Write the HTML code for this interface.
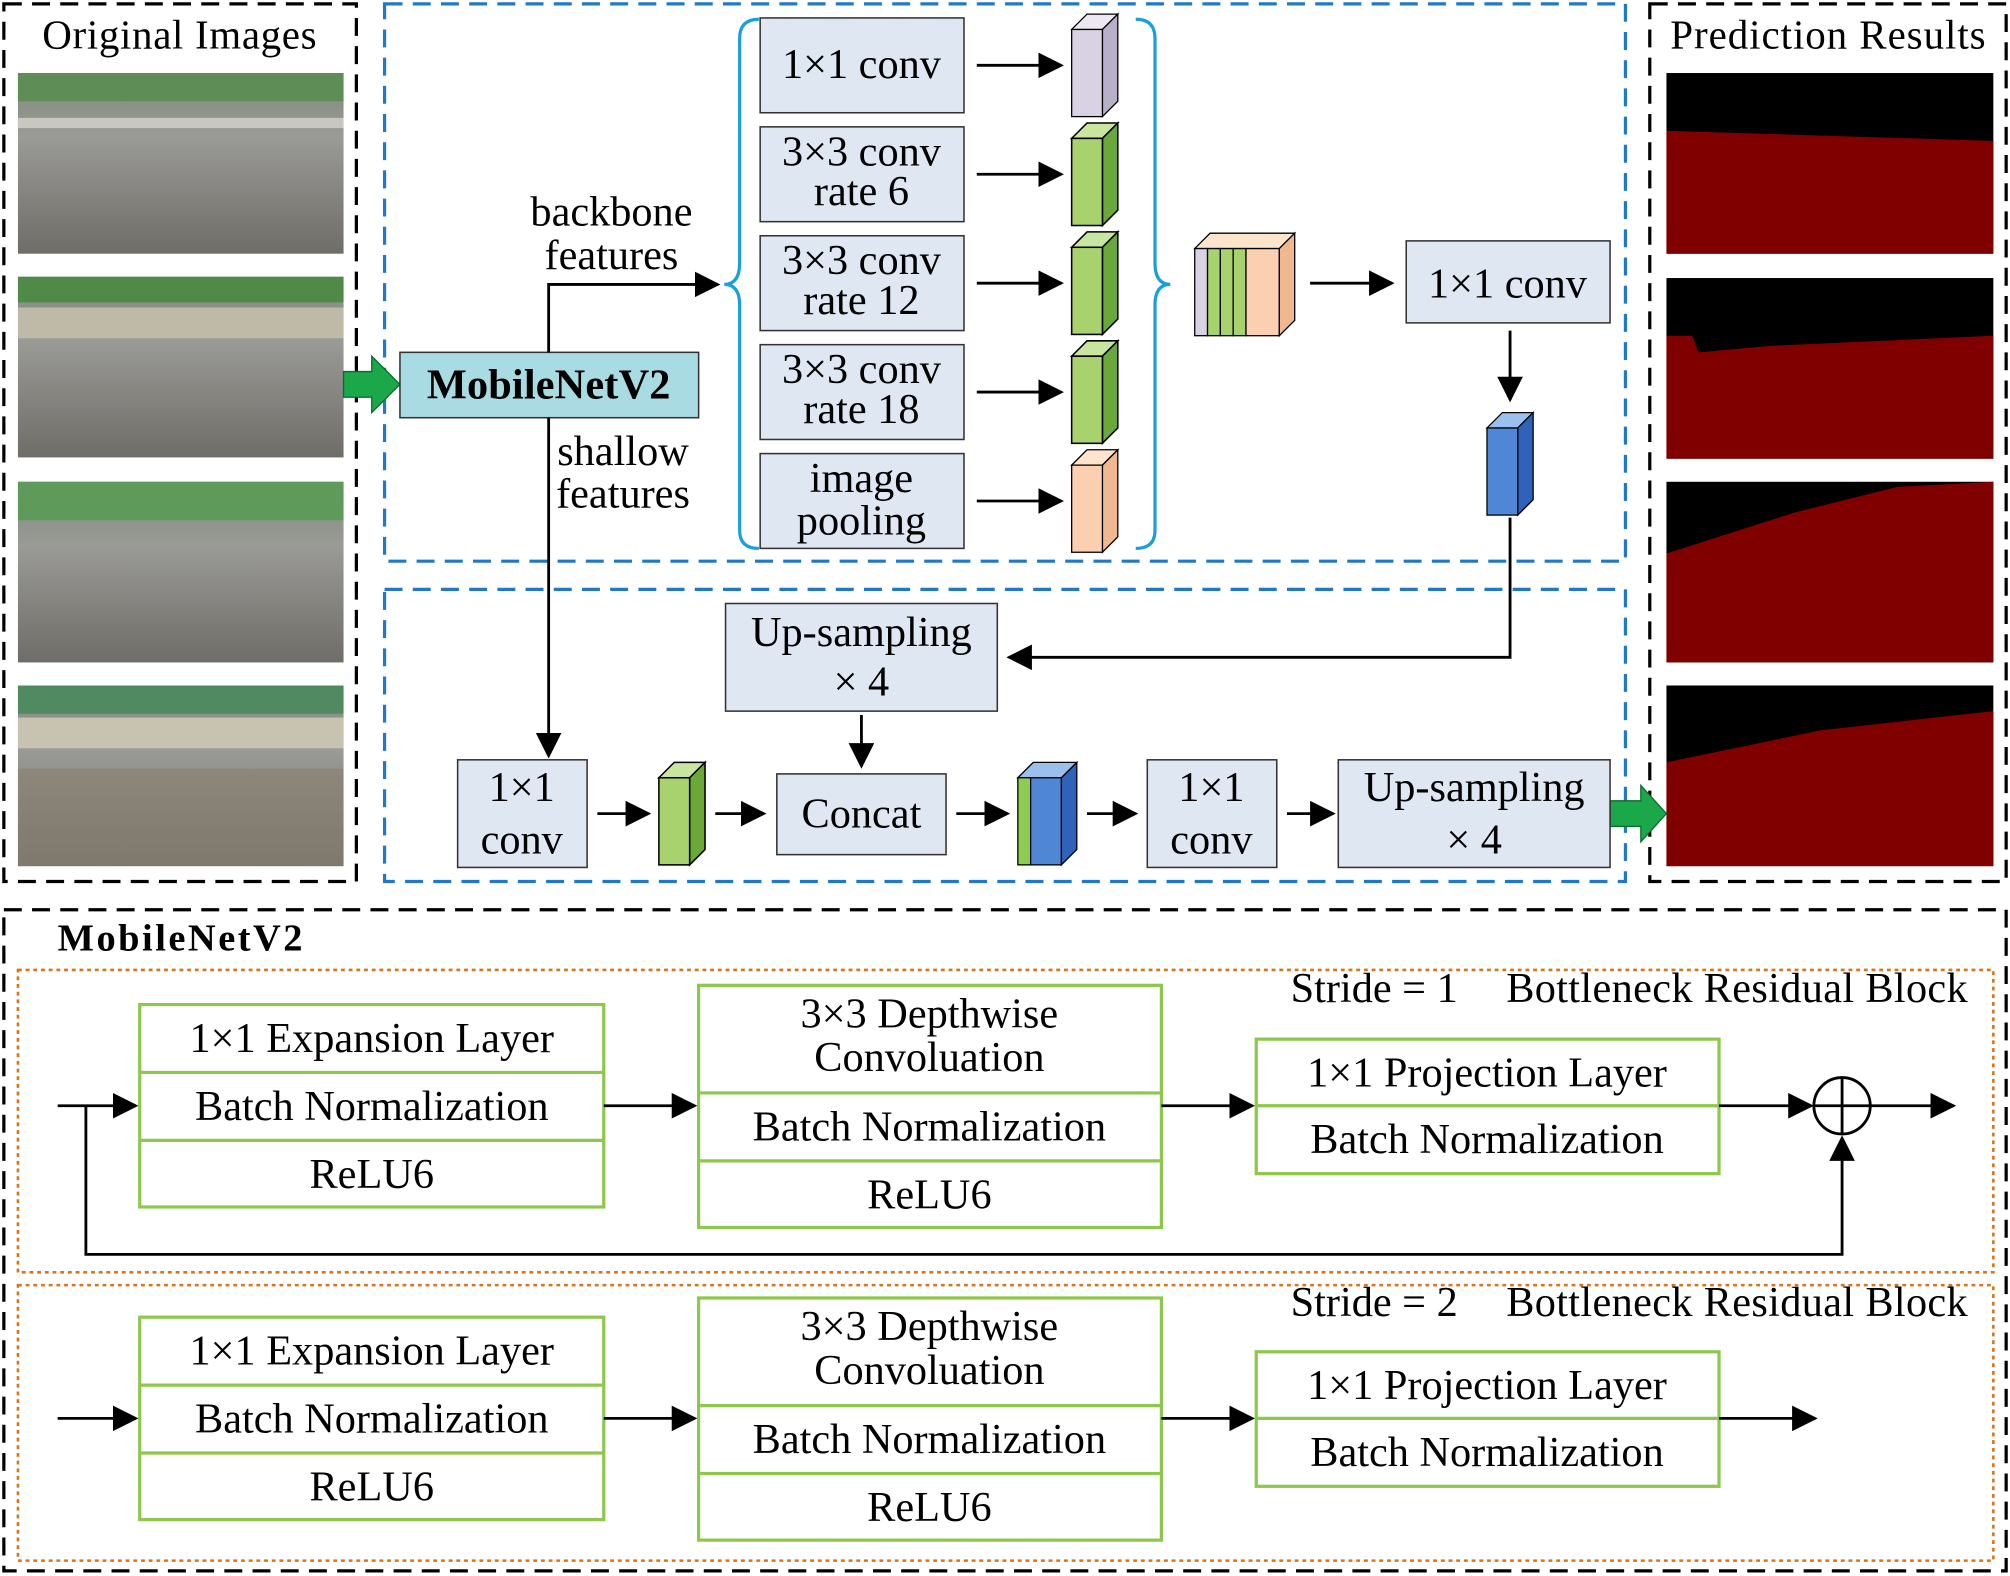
<!DOCTYPE html>
<html><head><meta charset="utf-8"><style>html,body{margin:0;padding:0;background:#fff}svg{display:block}</style></head>
<body>
<svg width="2010" height="1576" viewBox="0 0 1568 1230" preserveAspectRatio="none" xmlns="http://www.w3.org/2000/svg" font-family="Liberation Serif, serif">
<defs>
<marker id="a2" viewBox="0 0 10 10" refX="9" refY="5" markerWidth="20" markerHeight="20" orient="auto" markerUnits="userSpaceOnUse"><path d="M0,0 L10,5 L0,10 z" fill="#000"/></marker>
<linearGradient id="road" x1="0" y1="0" x2="0" y2="1"><stop offset="0" stop-color="#7d8a7a"/><stop offset="0.35" stop-color="#9a9a96"/><stop offset="1" stop-color="#6f6d68"/></linearGradient>
<g id="cg"><polygon points="0,12 12,0 36,0 24,12" fill="#c8e6a0" stroke="#000" stroke-width="1.2"/><polygon points="24,12 36,0 36,68 24,80" fill="#6aa83a" stroke="#000" stroke-width="1.2"/><rect x="0" y="12" width="24" height="68" fill="#a8d26e" stroke="#000" stroke-width="1.2"/></g>
</defs>
<g fill="none" stroke="#000" stroke-width="2.5" stroke-dasharray="14,8">
<rect x="3" y="3" width="275" height="685"/><rect x="1287" y="3" width="278" height="685"/><rect x="3" y="710" width="1562" height="516"/>
</g>
<g fill="none" stroke="#1f78c8" stroke-width="2.5" stroke-dasharray="14,8"><rect x="300" y="3" width="968" height="435"/><rect x="300" y="460" width="968" height="228"/></g>
<g fill="none" stroke="#d8741a" stroke-width="2" stroke-dasharray="3,3"><rect x="14" y="757" width="1541" height="236"/><rect x="14" y="1003" width="1541" height="215"/></g>
<g font-size="32" text-anchor="middle"><text x="140" y="38" textLength="214">Original Images</text><text x="1426" y="38" textLength="246">Prediction Results</text></g>
<g>
<rect x="14" y="57" width="254" height="141" fill="url(#road)"/><rect x="14" y="57" width="254" height="22" fill="#5e8d55"/><rect x="14" y="92" width="254" height="8" fill="#c8c8c0"/>
<rect x="14" y="216" width="254" height="141" fill="url(#road)"/><rect x="14" y="216" width="254" height="20" fill="#4f8a48"/><rect x="14" y="240" width="254" height="24" fill="#bfb9a8"/>
<rect x="14" y="376" width="254" height="141" fill="url(#road)"/><rect x="14" y="376" width="254" height="30" fill="#5e9a5a"/>
<rect x="14" y="535" width="254" height="141" fill="url(#road)"/><rect x="14" y="535" width="254" height="22" fill="#4f8a60"/><rect x="14" y="560" width="254" height="24" fill="#c8c2b0"/><rect x="14" y="600" width="254" height="76" fill="#8a8070" opacity="0.6"/>
</g>
<g fill="#800000">
<rect x="1300" y="57" width="255" height="141" fill="#000"/><polygon points="1300,102 1555,110 1555,198 1300,198"/>
<rect x="1300" y="217" width="255" height="141" fill="#000"/><polygon points="1300,262 1320,262 1325,275 1380,270 1555,262 1555,358 1300,358"/>
<rect x="1300" y="376" width="255" height="141" fill="#000"/><polygon points="1300,432 1400,400 1480,380 1555,376 1555,517 1300,517"/>
<rect x="1300" y="535" width="255" height="141" fill="#000"/><polygon points="1300,595 1420,570 1555,555 1555,676 1300,676"/>
</g>
<polygon points="268,290 290,290 290,278 312,300 290,322 290,310 268,310" fill="#1aa84a" stroke="#0a6a2a"/>
<polygon points="1256,625 1280,625 1280,613 1300,635 1280,657 1280,645 1256,645" fill="#1aa84a" stroke="#0a6a2a"/>
<rect x="312" y="275" width="233" height="51" fill="#a9dbe3" stroke="#333" stroke-width="1.2"/>
<text x="428" y="311" font-size="33" font-weight="bold" text-anchor="middle" textLength="190">MobileNetV2</text>
<g stroke="#000" stroke-width="2.2" fill="none">
<polyline points="428,275 428,222 560,222" marker-end="url(#a2)"/>
<line x1="428" y1="326" x2="428" y2="590" marker-end="url(#a2)"/>
</g>
<g font-size="33" text-anchor="middle"><text x="477" y="176">backbone</text><text x="477" y="210">features</text><text x="486" y="363">shallow</text><text x="486" y="396">features</text></g>
<g fill="none" stroke="#1aa0d8" stroke-width="2.5">
<path d="M592,15 Q577,15 577,30 L577,205 Q577,222 565,222 Q577,222 577,238 L577,414 Q577,428 592,428"/>
<path d="M886,15 Q901,15 901,30 L901,205 Q901,222 913,222 Q901,222 901,238 L901,414 Q901,428 886,428"/>
</g>
<g fill="#dee7f2" stroke="#333" stroke-width="1.2">
<rect x="593" y="14" width="159" height="74"/><rect x="593" y="99" width="159" height="74"/><rect x="593" y="184" width="159" height="74"/><rect x="593" y="269" width="159" height="74"/><rect x="593" y="354" width="159" height="74"/>
<rect x="1097" y="188" width="159" height="64"/><rect x="566" y="471" width="212" height="84"/><rect x="357" y="593" width="101" height="84"/><rect x="606" y="604" width="132" height="63"/><rect x="895" y="593" width="101" height="84"/><rect x="1044" y="593" width="212" height="84"/>
</g>
<g font-size="33" text-anchor="middle">
<text x="672" y="61">1×1 conv</text>
<text x="672" y="129">3×3 conv</text><text x="672" y="160">rate 6</text>
<text x="672" y="214">3×3 conv</text><text x="672" y="245">rate 12</text>
<text x="672" y="299">3×3 conv</text><text x="672" y="330">rate 18</text>
<text x="672" y="384">image</text><text x="672" y="417">pooling</text>
<text x="1176" y="232">1×1 conv</text>
<text x="672" y="504">Up-sampling</text><text x="672" y="543">× 4</text>
<text x="407" y="625">1×1</text><text x="407" y="666">conv</text>
<text x="672" y="646">Concat</text>
<text x="945" y="625">1×1</text><text x="945" y="666">conv</text>
<text x="1150" y="625">Up-sampling</text><text x="1150" y="666">× 4</text>
</g>
<g stroke="#000" stroke-width="2.2" fill="none">
<line x1="762" y1="51" x2="828" y2="51" marker-end="url(#a2)"/><line x1="762" y1="136" x2="828" y2="136" marker-end="url(#a2)"/><line x1="762" y1="221" x2="828" y2="221" marker-end="url(#a2)"/><line x1="762" y1="306" x2="828" y2="306" marker-end="url(#a2)"/><line x1="762" y1="391" x2="828" y2="391" marker-end="url(#a2)"/>
<line x1="1022" y1="221" x2="1086" y2="221" marker-end="url(#a2)"/>
<line x1="1178" y1="258" x2="1178" y2="312" marker-end="url(#a2)"/>
<polyline points="1178,404 1178,513 787,513" marker-end="url(#a2)"/>
<line x1="672" y1="558" x2="672" y2="598" marker-end="url(#a2)"/>
<line x1="466" y1="635" x2="506" y2="635" marker-end="url(#a2)"/><line x1="558" y1="635" x2="596" y2="635" marker-end="url(#a2)"/><line x1="746" y1="635" x2="786" y2="635" marker-end="url(#a2)"/><line x1="848" y1="635" x2="886" y2="635" marker-end="url(#a2)"/><line x1="1004" y1="635" x2="1040" y2="635" marker-end="url(#a2)"/>
</g>
<g transform="translate(836,11)"><polygon points="0,12 12,0 36,0 24,12" fill="#eee8f2" stroke="#000"/><polygon points="24,12 36,0 36,68 24,80" fill="#b8b0c8" stroke="#000"/><rect x="0" y="12" width="24" height="68" fill="#d8d2e4" stroke="#000"/></g>
<use href="#cg" x="836" y="96"/><use href="#cg" x="836" y="181"/><use href="#cg" x="836" y="266"/>
<g transform="translate(836,351)"><polygon points="0,12 12,0 36,0 24,12" fill="#fde4cc" stroke="#000"/><polygon points="24,12 36,0 36,68 24,80" fill="#f0b890" stroke="#000"/><rect x="0" y="12" width="24" height="68" fill="#fbd0b0" stroke="#000"/></g>
<g transform="translate(1160,322)"><polygon points="0,12 12,0 36,0 24,12" fill="#9cc0ee" stroke="#000"/><polygon points="24,12 36,0 36,68 24,80" fill="#2f62b8" stroke="#000"/><rect x="0" y="12" width="24" height="68" fill="#4f86d6" stroke="#000"/></g>
<use href="#cg" x="514" y="595"/>
<g transform="translate(794,595)"><polygon points="0,12 12,0 46,0 34,12" fill="#9cc0ee" stroke="#000"/><rect x="0" y="12" width="10" height="68" fill="#8ccc50" stroke="#000"/><rect x="10" y="12" width="24" height="68" fill="#4f86d6" stroke="#000"/><polygon points="34,12 46,0 46,68 34,80" fill="#2f62b8" stroke="#000"/></g>
<g transform="translate(932,182)" stroke="#000">
<polygon points="0,12 12,0 78,0 66,12" fill="#fde4cc"/>
<rect x="0" y="12" width="10" height="68" fill="#d8d2e4"/><rect x="10" y="12" width="10" height="68" fill="#a8d26e"/><rect x="20" y="12" width="10" height="68" fill="#a8d26e"/><rect x="30" y="12" width="10" height="68" fill="#a8d26e"/><rect x="40" y="12" width="26" height="68" fill="#fbd0b0"/>
<polygon points="66,12 78,0 78,68 66,80" fill="#f0b890"/>
</g>
<text x="45" y="742" font-size="30" font-weight="bold" textLength="191">MobileNetV2</text>
<g font-size="33" text-anchor="middle">
<text x="1072" y="782">Stride = 1</text><text x="1355" y="782" textLength="360">Bottleneck Residual Block</text>
<text x="1072" y="1027">Stride = 2</text><text x="1355" y="1027" textLength="360">Bottleneck Residual Block</text>
</g>
<g fill="#fff" stroke="#8cc84a" stroke-width="2.5">
<rect x="109" y="784" width="362" height="158"/><line x1="109" y1="837" x2="471" y2="837"/><line x1="109" y1="890" x2="471" y2="890"/>
<rect x="545" y="769" width="361" height="189"/><line x1="545" y1="853" x2="906" y2="853"/><line x1="545" y1="906" x2="906" y2="906"/>
<rect x="980" y="811" width="361" height="105"/><line x1="980" y1="863" x2="1341" y2="863"/>
<rect x="109" y="1028" width="362" height="158"/><line x1="109" y1="1081" x2="471" y2="1081"/><line x1="109" y1="1134" x2="471" y2="1134"/>
<rect x="545" y="1013" width="361" height="189"/><line x1="545" y1="1097" x2="906" y2="1097"/><line x1="545" y1="1150" x2="906" y2="1150"/>
<rect x="980" y="1055" width="361" height="105"/><line x1="980" y1="1107" x2="1341" y2="1107"/>
</g>
<g font-size="33" text-anchor="middle">
<text x="290" y="821">1×1 Expansion Layer</text><text x="290" y="874">Batch Normalization</text><text x="290" y="927">ReLU6</text>
<text x="725" y="802">3×3 Depthwise</text><text x="725" y="836">Convoluation</text><text x="725" y="890">Batch Normalization</text><text x="725" y="943">ReLU6</text>
<text x="1160" y="848">1×1 Projection Layer</text><text x="1160" y="900">Batch Normalization</text>
<text x="290" y="1065">1×1 Expansion Layer</text><text x="290" y="1118">Batch Normalization</text><text x="290" y="1171">ReLU6</text>
<text x="725" y="1046">3×3 Depthwise</text><text x="725" y="1080">Convoluation</text><text x="725" y="1134">Batch Normalization</text><text x="725" y="1187">ReLU6</text>
<text x="1160" y="1092">1×1 Projection Layer</text><text x="1160" y="1144">Batch Normalization</text>
</g>
<g stroke="#000" stroke-width="2.2" fill="none">
<line x1="45" y1="863" x2="106" y2="863" marker-end="url(#a2)"/>
<line x1="471" y1="863" x2="542" y2="863" marker-end="url(#a2)"/>
<line x1="906" y1="863" x2="977" y2="863" marker-end="url(#a2)"/>
<line x1="1341" y1="863" x2="1413" y2="863" marker-end="url(#a2)"/>
<line x1="1459" y1="863" x2="1524" y2="863" marker-end="url(#a2)"/>
<circle cx="1437" cy="863" r="22"/><line x1="1415" y1="863" x2="1459" y2="863"/><line x1="1437" y1="841" x2="1437" y2="885"/>
<polyline points="67,863 67,979 1437,979 1437,888" marker-end="url(#a2)"/>
<line x1="45" y1="1107" x2="106" y2="1107" marker-end="url(#a2)"/>
<line x1="471" y1="1107" x2="542" y2="1107" marker-end="url(#a2)"/>
<line x1="906" y1="1107" x2="977" y2="1107" marker-end="url(#a2)"/>
<line x1="1341" y1="1107" x2="1416" y2="1107" marker-end="url(#a2)"/>
</g>
</svg>
</body></html>
